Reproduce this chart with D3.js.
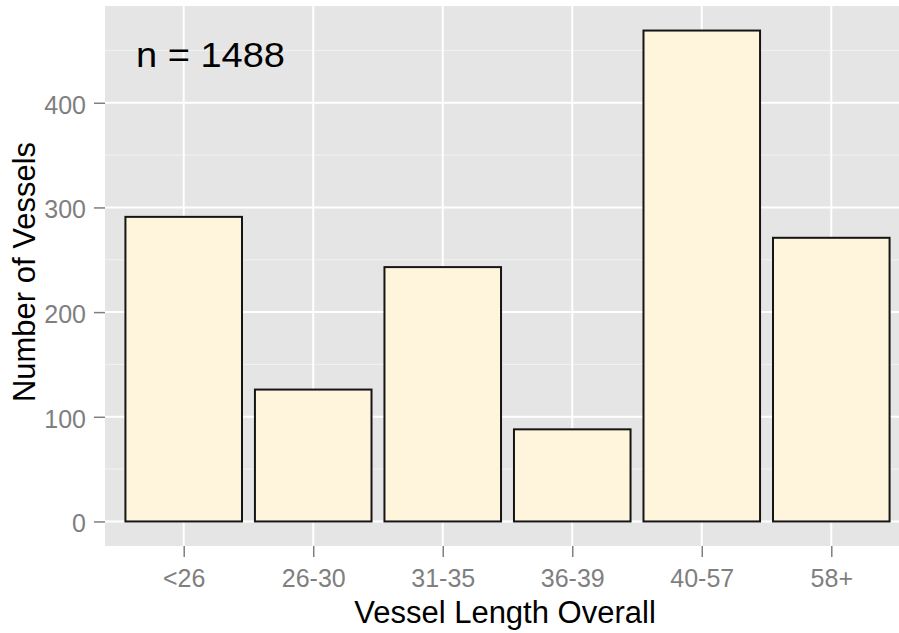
<!DOCTYPE html>
<html>
<head>
<meta charset="utf-8">
<script src="https://cdn.jsdelivr.net/npm/d3@7"></script>
<style>
body{margin:0;background:#fff;}
svg text{font-family:"Liberation Sans",Arial,sans-serif;}
.tick text{fill:#7f7f7f;font-size:25px;}
.tick line{stroke:#7f7f7f;stroke-width:1.5px;}
.domain{display:none;}
</style>
</head>
<body>
<div class="viz"></div>
<script>
// vessel length classes and counts
var categories=["<26","26-30","31-35","36-39","40-57","58+"];
var counts=[291,126,243,88,469,271];
var yTicks=[0,100,200,300,400];
var yMinor=[50,150,250,350,450];
var nLabel="n = 1488";

var W=899,H=633;
var panel={left:105,top:6,right:909,bottom:546};

var svg=d3.select(".viz").append("svg").attr("width",W).attr("height",H);

// ggplot style expansion: 0.6 units on discrete, 5% on continuous
var ymax=d3.max(counts);
var yscale=d3.scaleLinear().domain([-ymax*0.05,ymax*1.05]).range([panel.bottom,panel.top]);
var xcont=d3.scaleLinear().domain([0.4,categories.length+0.6]).range([panel.left+1,panel.right]);
var xscale=d3.scalePoint().domain(categories).range([xcont(1),xcont(categories.length)]);
var barw=(xcont(1.9)-xcont(1));

svg.append("rect").attr("x",panel.left).attr("y",panel.top)
	.attr("width",panel.right-panel.left).attr("height",panel.bottom-panel.top)
	.style("fill","#e5e5e5");

var grid=svg.append("g");
grid.selectAll(".minor").data(yMinor).enter().append("line")
	.attr("x1",panel.left).attr("x2",panel.right)
	.attr("y1",function(d){return yscale(d);}).attr("y2",function(d){return yscale(d);})
	.style("stroke","#f2f2f2").style("stroke-width",1);
grid.selectAll(".major").data(yTicks).enter().append("line")
	.attr("x1",panel.left).attr("x2",panel.right)
	.attr("y1",function(d){return yscale(d);}).attr("y2",function(d){return yscale(d);})
	.style("stroke","#fff").style("stroke-width",2);
grid.selectAll(".vmajor").data(categories).enter().append("line")
	.attr("y1",panel.top).attr("y2",panel.bottom)
	.attr("x1",function(d){return xscale(d);}).attr("x2",function(d){return xscale(d);})
	.style("stroke","#fff").style("stroke-width",2);

svg.selectAll(".bar").data(counts).enter().append("rect")
	.attr("x",function(d,i){return xscale(categories[i])-barw/2;})
	.attr("y",function(d){return yscale(d);})
	.attr("width",barw)
	.attr("height",function(d){return yscale(0)-yscale(d);})
	.style("fill","#fff5dc").style("stroke","#151515").style("stroke-width",2);

var yaxis=d3.axisLeft(yscale).tickValues(yTicks).tickSize(11).tickPadding(8);
svg.append("g").attr("transform","translate("+panel.left+",0)").call(yaxis)
	.selectAll(".tick text").attr("dy","0.42em");
var xaxis=d3.axisBottom(xscale).tickSize(11).tickPadding(12);
svg.append("g").attr("transform","translate(0,"+panel.bottom+")").call(xaxis);

svg.append("text").attr("x",136).attr("y",67).text(nLabel)
	.attr("textLength",149).attr("lengthAdjust","spacingAndGlyphs")
	.style("font-size","35px").style("fill","#000");

svg.append("text").attr("x",505).attr("y",623)
	.attr("text-anchor","middle").text("Vessel Length Overall")
	.style("font-size","31px").style("fill","#000");
svg.append("text").attr("transform","translate(35,272) rotate(-90)")
	.attr("text-anchor","middle").text("Number of Vessels")
	.style("font-size","31px").style("fill","#000");
</script>
</body>
</html>
